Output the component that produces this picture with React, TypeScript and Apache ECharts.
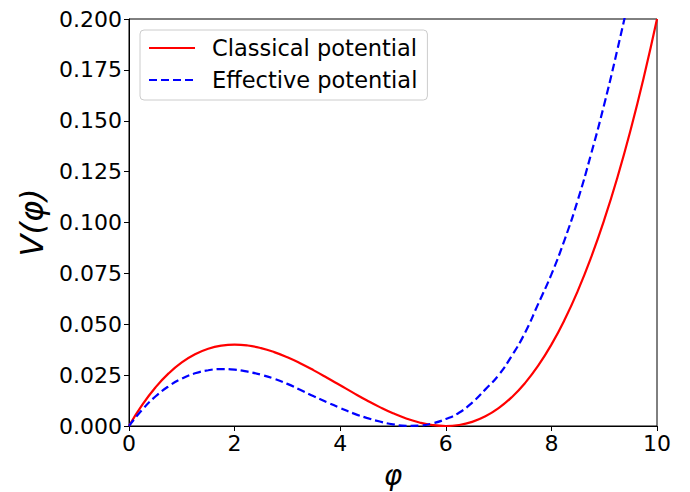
import React, { useEffect, useRef } from "react";
import * as echarts from "echarts";

const phi = [
  0, 0.25, 0.5, 0.75, 1.0, 1.25, 1.5, 1.75, 2.0, 2.25, 2.5, 2.75, 3.0, 3.25, 3.5, 3.75,
  4.0, 4.25, 4.5, 4.75, 5.0, 5.25, 5.5, 5.75, 6.0, 6.25, 6.5, 6.75, 7.0, 7.25, 7.5, 7.75,
  8.0, 8.25, 8.5, 8.75, 9.0, 9.25, 9.5, 9.75, 10.0,
];

const classical = [
  0, 0.01033, 0.01891, 0.02584, 0.03125, 0.03525, 0.03797, 0.03951, 0.04, 0.03955, 0.03828,
  0.03631, 0.03375, 0.03072, 0.02734, 0.02373, 0.02, 0.01627, 0.01266, 0.00928, 0.00625,
  0.00369, 0.00172, 0.00045, 0, 0.00049, 0.00203, 0.00475, 0.00875, 0.01416, 0.02109,
  0.02967, 0.04, 0.05221, 0.06641, 0.08272, 0.10125, 0.12213, 0.14547, 0.17139, 0.2,
];

const effective = [
  0, 0.008, 0.0145, 0.0195, 0.0233, 0.0259, 0.0274, 0.028, 0.0277, 0.0267, 0.0252, 0.0232,
  0.0207, 0.0177, 0.0146, 0.0117, 0.0089, 0.0062, 0.004, 0.0022, 0.0008, 0.0001, 0.0002,
  0.0013, 0.0034, 0.0065, 0.0115, 0.018, 0.025, 0.0345, 0.0458, 0.06, 0.0745, 0.0915, 0.111,
  0.1335, 0.158, 0.185, 0.214, 0.245, 0.278,
];

const xTicks = { min: 0, max: 10, interval: 2 };
const yTicks = { min: 0, max: 0.2, interval: 0.025 };
const seriesNames = ["Classical potential", "Effective potential"];

export default function App() {
  const ref = useRef<HTMLDivElement>(null);
  useEffect(() => {
    if (!ref.current) return;
    const chart = echarts.init(ref.current, null, { renderer: "svg" });
    const font = "DejaVu Sans";
    chart.setOption({
      animation: false,
      backgroundColor: "#ffffff",
      grid: {
        left: 129,
        right: 33,
        top: 19,
        bottom: 66,
        containLabel: false,
        outerBoundsMode: "none",
        show: true,
        borderColor: "#000000",
        borderWidth: 1,
        backgroundColor: "transparent",
      },
      legend: {
        show: true,
        orient: "vertical",
        left: 140,
        top: 30,
        data: seriesNames,
        itemWidth: 46,
        itemHeight: 14,
        itemGap: 8,
        padding: [6, 10, 8, 8],
        backgroundColor: "rgba(255,255,255,0.8)",
        borderColor: "#cccccc",
        borderWidth: 1,
        borderRadius: 4,
        itemStyle: { opacity: 0 },
        textStyle: {
          fontFamily: font,
          fontSize: 22.5,
          lineHeight: 24,
          color: "#000000",
          padding: [0, 0, 0, 12],
        },
      },
      xAxis: {
        type: "value",
        min: xTicks.min,
        max: xTicks.max,
        interval: xTicks.interval,
        name: "φ",
        nameLocation: "middle",
        nameGap: 35,
        nameTextStyle: {
          fontFamily: font,
          fontSize: 28,
          fontStyle: "italic",
          color: "#000000",
        },
        axisLine: { show: true, onZero: false, lineStyle: { color: "#000000", width: 1 } },
        axisTick: { show: true, inside: false, length: 5, lineStyle: { color: "#000000" } },
        axisLabel: { fontFamily: font, fontSize: 22, color: "#000000", margin: 6 },
        splitLine: { show: false },
      },
      yAxis: {
        type: "value",
        min: yTicks.min,
        max: yTicks.max,
        interval: yTicks.interval,
        name: "V(φ)",
        nameLocation: "middle",
        nameGap: 80,
        nameRotate: 90,
        nameTextStyle: {
          fontFamily: font,
          fontSize: 32,
          fontStyle: "italic",
          color: "#000000",
          padding: [0, 0, 0, 0],
        },
        axisLine: { show: true, onZero: false, lineStyle: { color: "#000000", width: 1 } },
        axisTick: { show: true, inside: false, length: 5, lineStyle: { color: "#000000" } },
        axisLabel: {
          fontFamily: font,
          fontSize: 22,
          color: "#000000",
          margin: 7,
          formatter: (v: number) => v.toFixed(3),
        },
        splitLine: { show: false },
      },
      series: [
        {
          name: seriesNames[0],
          type: "line",
          data: phi.map((x, i) => [x, classical[i]]),
          symbol: "none",
          smooth: true,
          clip: true,
          lineStyle: { color: "#ff0000", width: 2.2, type: "solid" },
          itemStyle: { color: "#ff0000" },
        },
        {
          name: seriesNames[1],
          type: "line",
          data: phi.map((x, i) => [x, effective[i]]),
          symbol: "none",
          smooth: true,
          clip: true,
          lineStyle: { color: "#0000ff", width: 2.2, type: [8, 4] },
          itemStyle: { color: "#0000ff" },
        },
      ],
    });
    return () => chart.dispose();
  }, []);
  return (
    <div
      ref={ref}
      style={{ position: "fixed", left: 0, top: 0, width: 690, height: 492, background: "#fff" }}
    />
  );
}
